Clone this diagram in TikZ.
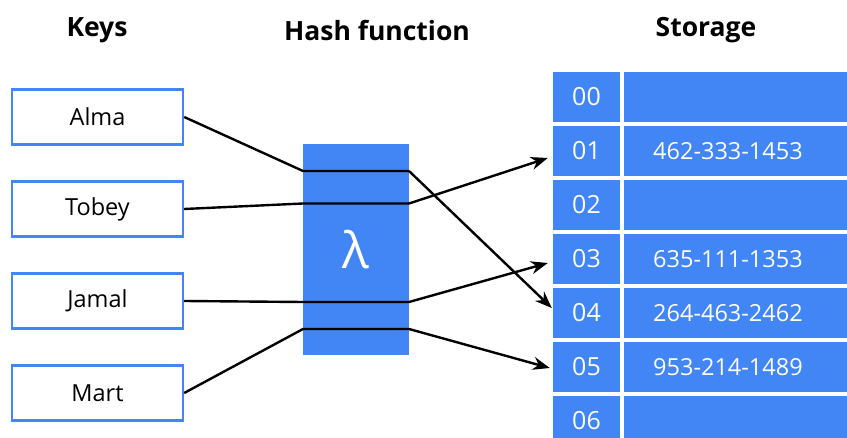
\documentclass[tikz,border=0pt]{standalone}
\usepackage{fontspec}
\setmainfont{Open Sans}
\usetikzlibrary{calc,positioning,arrows.meta}

\definecolor{gblue}{HTML}{4285F4}

\tikzset{
    header/.style={font=\bfseries\fontsize{26.5}{30}\selectfont},
    keybox/.style={draw=gblue, line width=2.4pt, minimum width=171pt,
        minimum height=55pt, font=\fontsize{23.5}{27}\selectfont},
    idxcell/.style={fill=gblue, text=white, minimum width=67pt,
        minimum height=50pt, inner sep=0pt, font=\fontsize{25}{29}\selectfont},
    valcell/.style={fill=gblue, text=white, anchor=west, minimum height=50pt,
        inner xsep=29pt, inner ysep=0pt, text width=172pt, align=left,
        font=\fontsize{23.5}{27}\selectfont},
    link/.style={line width=2.4pt},
    ptr/.style={link, -{Stealth[length=17pt,width=13pt]}},
}

\begin{document}
\begin{tikzpicture}[x=1pt,y=-1pt]
        % 画布
        \clip (0,0) rectangle (847,438);

        % 标题
        \node [header] (tKeys) at (97,30) {Keys};
        \node [header] (tHash) at (377,30) {Hash function};
        \node [header] (tStore) at (706,30) {Storage};

        % 键
        \node [keybox] (alma)  at (97.5,117) {Alma};
        \node [keybox] (tobey) at (97.5,209) {Tobey};
        \node [keybox] (jamal) at (97.5,301) {Jamal};
        \node [keybox] (mart)  at (97.5,393) {Mart};

        % 哈希函数
        \node [fill=gblue, minimum width=106pt, minimum height=211pt,
            inner sep=0pt] (hash) at (356,249.5) {};
        \node [text=white, font=\fontsize{50}{54}\selectfont] (lam)
            at (hash.center) {λ};
        \coordinate (h1w) at (303,171);
        \coordinate (h1e) at (409,171);
        \coordinate (h2w) at (303,203.5);
        \coordinate (h2e) at (409,203.5);
        \coordinate (h3w) at (303,302);
        \coordinate (h3e) at (409,302);
        \coordinate (h4w) at (303,329);
        \coordinate (h4e) at (409,329);

        % 存储
        \foreach \i/\v in {0/,1/462-333-1453,2/,3/635-111-1353,
            4/264-463-2462,5/953-214-1489,6/}
        {
            \node [idxcell] (idx\i) at (586.5,97+54*\i) {0\i};
            \node [valcell] (val\i) at (624,97+54*\i) {\v};
        }

        % 连线
        \draw [link] (alma.east) -- (h1w) -- (h1e);
        \draw [link] (tobey.east) -- (h2w) -- (h2e);
        \draw [link] (jamal.east) -- (h3w) -- (h3e);
        \draw [link] (mart.east) -- (h4w) -- (h4e);

        \draw [ptr] (h1e) -- ([xshift=-1pt,yshift=5pt]idx4.west);
        \draw [ptr] (h2e) -- ([xshift=-5pt,yshift=-7pt]idx1.west);
        \draw [ptr] (h3e) -- ([xshift=-5pt,yshift=-4pt]idx3.west);
        \draw [ptr] (h4e) -- ([xshift=-3pt,yshift=-1pt]idx5.west);

    \end{tikzpicture}
\end{document}
